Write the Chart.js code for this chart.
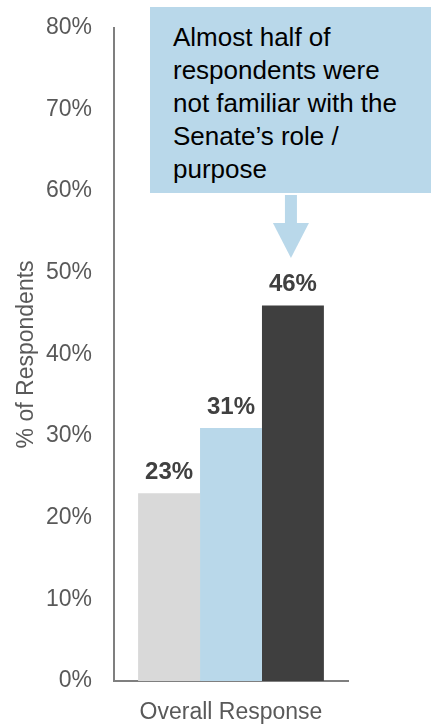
<!DOCTYPE html>
<html>
<head>
<meta charset="utf-8">
<script src="https://cdn.jsdelivr.net/npm/chart.js@4/dist/chart.umd.min.js"></script>
<style>
  html, body { margin: 0; padding: 0; background: #fff; }
  #wrap { position: relative; width: 431px; height: 724px; overflow: hidden; }
  #callout {
    position: absolute; left: 150px; top: 7px; width: 258px; height: 172px;
    padding: 14px 0 0 23px; background: #B9D8EA; color: #000;
    font: 26px/33px "Liberation Sans", Arial, sans-serif; white-space: nowrap;
  }
</style>
</head>
<body>
<div id="wrap">
  <canvas id="c" width="431" height="724"></canvas>
  <div id="callout">Almost half of<br>respondents were<br>not familiar with the<br>Senate’s role /<br>purpose</div>
</div>
<script>
// --- data ---
const categories = ['Overall Response'];
const seriesNames = ['Familiar', 'Somewhat familiar', 'Not familiar'];
const seriesValues = [23, 31, 46];
const seriesColors = ['#D9D9D9', '#B9D8EA', '#3F3F3F'];
const yTicks = [0, 10, 20, 30, 40, 50, 60, 70, 80];

const FONT = '"Liberation Sans", Arial, sans-serif';

// value labels above each bar
const barLabels = {
  id: 'barLabels',
  afterDatasetsDraw(chart) {
    const ctx = chart.ctx;
    ctx.save();
    ctx.font = 'bold 24px ' + FONT;
    ctx.fillStyle = '#404040';
    ctx.textAlign = 'center';
    ctx.textBaseline = 'alphabetic';
    chart.data.datasets.forEach((ds, i) => {
      const bar = chart.getDatasetMeta(i).data[0];
      ctx.fillText(ds.data[0] + '%', bar.x, bar.y - 14);
    });
    ctx.restore();
  }
};

// arrow from the callout down to the tallest bar
const calloutArrow = {
  id: 'calloutArrow',
  afterDraw(chart) {
    const bar = chart.getDatasetMeta(2).data[0];
    const x = bar.x - 2, ctx = chart.ctx;
    ctx.save();
    ctx.fillStyle = '#B9D8EA';
    ctx.fillRect(x - 6, 195, 12, 29);
    ctx.beginPath();
    ctx.moveTo(x - 18, 223);
    ctx.lineTo(x + 18, 223);
    ctx.lineTo(x, 258);
    ctx.closePath();
    ctx.fill();
    ctx.restore();
  }
};

new Chart(document.getElementById('c'), {
  type: 'bar',
  data: {
    labels: categories,
    datasets: seriesNames.map((n, i) => ({
      label: n,
      data: [seriesValues[i]],
      backgroundColor: seriesColors[i],
      categoryPercentage: 0.794,
      barPercentage: 1
    }))
  },
  options: {
    responsive: false,
    animation: false,
    layout: { padding: { top: 20, right: 83, left: 0, bottom: 0 } },
    plugins: { legend: { display: false }, tooltip: { enabled: false } },
    scales: {
      x: {
        grid: { display: false },
        border: { display: true, color: '#7F7F7F', width: 2 },
        ticks: { color: '#595959', font: { family: FONT, size: 23 }, padding: 10 },
        afterFit(s) { s.height = 43; }
      },
      y: {
        min: 0, max: 80,
        afterBuildTicks(s) { s.ticks = yTicks.map(v => ({ value: v })); },
        grid: { display: false },
        border: { display: true, color: '#7F7F7F', width: 2 },
        ticks: { color: '#595959', font: { family: FONT, size: 23 }, padding: 14, callback: v => v + '%' },
        title: { display: true, text: '% of Respondents', color: '#595959', font: { family: FONT, size: 23 }, padding: { top: 13, bottom: 0 } },
        afterFit(s) { s.width = 114; }
      }
    }
  },
  plugins: [barLabels, calloutArrow]
});
</script>
</body>
</html>
